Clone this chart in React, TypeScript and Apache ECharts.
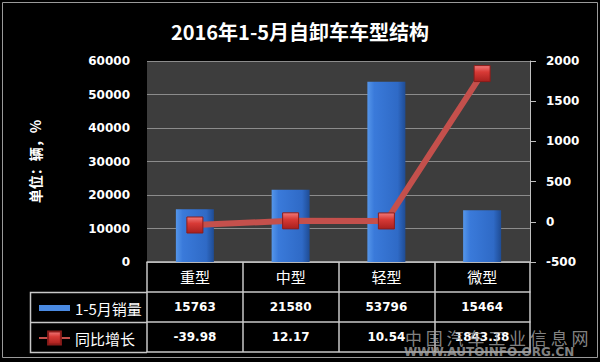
import React, { useEffect, useRef } from "react";
import * as echarts from "echarts";

const title = "2016年1-5月自卸车车型结构";
const unitLabel = "单位：辆，%";
const categories = ["重型", "中型", "轻型", "微型"];
const seriesNames = ["1-5月销量", "同比增长"];
const sales = [15763, 21580, 53796, 15464];
const growth = [-39.98, 12.17, 10.54, 1843.38];
const growthLabels = ["-39.98", "12.17", "10.54", "1843.38"];
const watermarkCn = "中 国 汽 车 工 业 信 息 网";
const watermarkUrl = "WWW.AUTOINFO.ORG.CN";

const NUM_FONT = "DejaVu Sans";
const CJK_FONT = "Noto Sans CJK SC";
const LINE_C = "#c8c8c8";

export default function App() {
  const ref = useRef<HTMLDivElement>(null);
  useEffect(() => {
    if (!ref.current) return;
    const chart = echarts.init(ref.current, undefined, { renderer: "svg" });
    const barGrad = new echarts.graphic.LinearGradient(0, 0, 1, 0, [
      { offset: 0, color: "#5596ea" },
      { offset: 0.18, color: "#3a7ada" },
      { offset: 0.8, color: "#2f6ac6" },
      { offset: 1, color: "#1f4c94" },
    ]);
    const markGrad = new echarts.graphic.LinearGradient(0, 0, 0, 1, [
      { offset: 0, color: "#f07a7a" },
      { offset: 0.4, color: "#d83a36" },
      { offset: 1, color: "#a8201e" },
    ]);
    const plain = (v: number) => String(v);
    const hiddenAxisBase = {
      type: "category" as const,
      gridIndex: 0,
      position: "bottom" as const,
      axisTick: { show: false },
      splitLine: { show: false },
      axisLine: { show: true, onZero: false, lineStyle: { color: LINE_C, width: 1.5 } },
    };
    chart.setOption({
      animation: false,
      backgroundColor: "#000",
      title: {
        text: title,
        left: "center",
        top: 16,
        textStyle: { color: "#fff", fontSize: 20, fontWeight: "bold", fontFamily: CJK_FONT },
      },
      legend: {
        orient: "vertical",
        left: 33,
        top: 295,
        itemGap: 14,
        itemWidth: 31,
        itemHeight: 16,
        textStyle: { color: "#fff", fontSize: 15, fontFamily: CJK_FONT, lineHeight: 16 },
        data: [
          { name: seriesNames[0], icon: "path://M0,0h31v6h-31z", itemStyle: { color: "#4a8ae2" } },
          { name: seriesNames[1] },
        ],
      },
      grid: {
        left: 147,
        right: 70,
        top: 61,
        bottom: 100,
        show: true,
        backgroundColor: "#3d3d3d",
        borderWidth: 0,
        outerBoundsMode: "none",
      },
      xAxis: [
        {
          type: "category",
          data: categories,
          position: "bottom",
          axisLine: { show: true, onZero: false, lineStyle: { color: LINE_C, width: 1.5 } },
          axisTick: { show: true, length: 90, interval: 0, alignWithLabel: false, lineStyle: { color: LINE_C, width: 1.5 } },
          axisLabel: { color: "#fff", fontSize: 15, fontFamily: CJK_FONT, margin: 7 },
        },
        {
          ...hiddenAxisBase,
          offset: 30,
          data: sales.map((v) => String(v)),
          axisLabel: { color: "#fff", fontSize: 12, fontWeight: "bold", fontFamily: NUM_FONT, margin: 9 },
        },
        {
          ...hiddenAxisBase,
          offset: 60,
          data: growthLabels,
          axisLabel: { color: "#fff", fontSize: 12, fontWeight: "bold", fontFamily: NUM_FONT, margin: 9 },
        },
        {
          ...hiddenAxisBase,
          offset: 90,
          data: categories,
          axisLabel: { show: false },
        },
      ],
      yAxis: [
        {
          type: "value",
          min: 0,
          max: 60000,
          interval: 10000,
          name: unitLabel,
          nameLocation: "middle",
          nameRotate: 90,
          nameGap: 105,
          nameTextStyle: { color: "#fff", fontSize: 14, fontWeight: "bold", fontFamily: CJK_FONT },
          axisLine: { show: false },
          axisTick: { show: false },
          splitLine: { show: true, lineStyle: { color: "#8c8c8c", width: 1 } },
          axisLabel: { color: "#fff", fontSize: 12, fontWeight: "bold", fontFamily: NUM_FONT, margin: 17, formatter: plain },
        },
        {
          type: "value",
          min: -500,
          max: 2000,
          interval: 500,
          position: "right",
          axisLine: { show: true, lineStyle: { color: "#bfbfbf", width: 1 } },
          axisTick: { show: true, length: 6, lineStyle: { color: "#bfbfbf" } },
          splitLine: { show: false },
          axisLabel: { color: "#fff", fontSize: 12, fontWeight: "bold", fontFamily: NUM_FONT, margin: 16, formatter: plain },
        },
      ],
      series: [
        {
          name: seriesNames[0],
          type: "bar",
          xAxisIndex: 0,
          yAxisIndex: 0,
          data: sales,
          barWidth: 38,
          itemStyle: { color: barGrad },
        },
        {
          name: seriesNames[1],
          type: "line",
          xAxisIndex: 0,
          yAxisIndex: 1,
          data: growth,
          symbol: "rect",
          symbolSize: 16,
          lineStyle: { color: "#c4504c", width: 6 },
          itemStyle: { color: markGrad, borderColor: "#8c1c1a", borderWidth: 1 },
          z: 5,
        },
      ],
      graphic: [
        {
          type: "rect",
          shape: { x: 2.5, y: 2.5, width: 595, height: 355 },
          style: { fill: "none", stroke: "#9a9a9a", lineWidth: 1 },
          silent: true,
        },
        {
          type: "polyline",
          shape: { points: [[147, 292.5], [30.5, 292.5], [30.5, 352.5], [147, 352.5]] },
          style: { fill: "none", stroke: LINE_C, lineWidth: 1.5 },
          silent: true,
        },
        {
          type: "line",
          shape: { x1: 30.5, y1: 322.5, x2: 147, y2: 322.5 },
          style: { stroke: LINE_C, lineWidth: 1.5 },
          silent: true,
        },
        {
          type: "text",
          x: 405,
          y: 337,
          z: 100,
          style: {
            text: watermarkCn,
            fill: "rgba(165,165,165,0.8)",
            fontSize: 17,
            fontFamily: CJK_FONT,
            verticalAlign: "middle",
          },
          silent: true,
        },
        {
          type: "text",
          x: 404,
          y: 352,
          z: 100,
          style: {
            text: watermarkUrl,
            fill: "rgba(165,165,165,0.8)",
            fontSize: 12,
            fontWeight: "bold",
            fontFamily: NUM_FONT,
            verticalAlign: "middle",
          },
          silent: true,
        },
      ],
    });
    return () => chart.dispose();
  }, []);
  return (
    <div
      ref={ref}
      style={{ position: "fixed", left: 0, top: 0, width: 600, height: 362, background: "#fff" }}
    />
  );
}
